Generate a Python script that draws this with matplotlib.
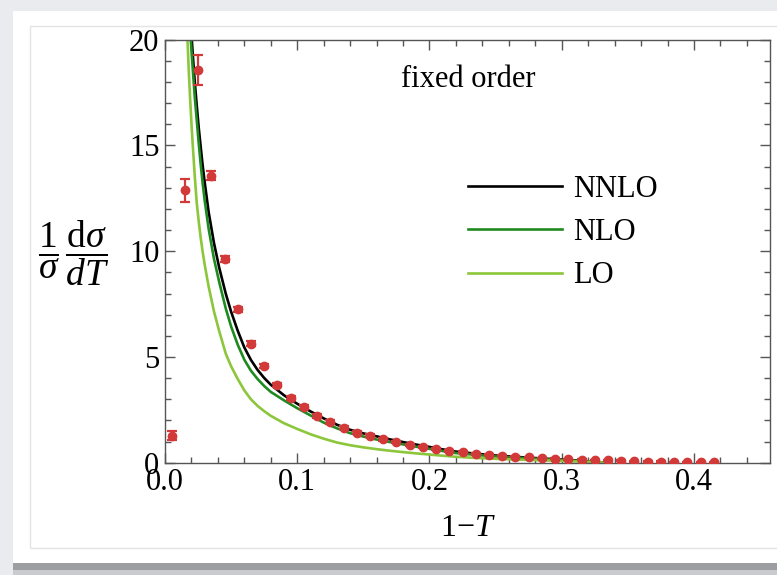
import matplotlib
matplotlib.use("Agg")
import matplotlib.pyplot as plt
from matplotlib.patches import Rectangle
from matplotlib.ticker import MultipleLocator

plt.rcParams['font.family'] = ['Liberation Serif', 'DejaVu Serif']
plt.rcParams['mathtext.fontset'] = 'custom'
plt.rcParams['mathtext.rm'] = 'Liberation Serif'
plt.rcParams['mathtext.it'] = 'Liberation Serif:italic'
plt.rcParams['mathtext.bf'] = 'Liberation Serif:bold'

# ---- data ----
data_x = [0.005, 0.015, 0.025, 0.035, 0.045, 0.055, 0.065, 0.075, 0.085, 0.095,
          0.105, 0.115, 0.125, 0.135, 0.145, 0.155, 0.165, 0.175, 0.185, 0.195,
          0.205, 0.215, 0.225, 0.235, 0.245, 0.255, 0.265, 0.275, 0.285, 0.295,
          0.305, 0.315, 0.325, 0.335, 0.345, 0.355, 0.365, 0.375, 0.385, 0.395,
          0.405, 0.415]
data_y = [1.28, 12.88, 18.55, 13.57, 9.62, 7.26, 5.63, 4.56, 3.69, 3.07,
          2.63, 2.22, 1.92, 1.65, 1.42, 1.28, 1.11, 0.97, 0.85, 0.75,
          0.64, 0.57, 0.50, 0.43, 0.38, 0.33, 0.29, 0.26, 0.22, 0.19,
          0.17, 0.15, 0.13, 0.12, 0.10, 0.08, 0.06, 0.05, 0.04, 0.03,
          0.02, 0.02]
data_err = [0.2, 0.55, 0.7, 0.2, 0.15, 0.12, 0.12, 0.1, 0.1, 0.1,
            0.08, 0.08, 0.08, 0.07, 0.07, 0.06, 0.06, 0.05, 0.05, 0.05,
            0.04, 0.04, 0.04, 0.04, 0.03, 0.03, 0.03, 0.03, 0.03, 0.03,
            0.02, 0.02, 0.02, 0.02, 0.02, 0.02, 0.02, 0.02, 0.02, 0.02,
            0.02, 0.02]

curve_x = [0.015, 0.016, 0.017, 0.018, 0.019, 0.020, 0.021, 0.0225, 0.024, 0.0255,
           0.027, 0.0285, 0.030, 0.033, 0.037, 0.041, 0.046, 0.050, 0.055, 0.060,
           0.065, 0.070, 0.075, 0.080, 0.090, 0.100, 0.110, 0.120, 0.130, 0.140,
           0.150, 0.160, 0.170, 0.180, 0.190, 0.200, 0.210, 0.220, 0.235, 0.250,
           0.265, 0.280, 0.290, 0.300, 0.310, 0.320, 0.327, 0.333]
lo_y = [23.33, 21.56, 20.0, 18.5, 17.2, 16.05, 15.0, 13.56, 12.29, 11.41,
        10.63, 9.96, 9.37, 8.33, 7.16, 6.22, 5.15, 4.56, 3.96, 3.42,
        3.00, 2.69, 2.44, 2.22, 1.87, 1.60, 1.35, 1.14, 0.96, 0.83,
        0.73, 0.645, 0.57, 0.505, 0.445, 0.39, 0.335, 0.285, 0.23, 0.19,
        0.155, 0.128, 0.108, 0.088, 0.067, 0.045, 0.025, 0.0]
nlo_y = [26.0, 24.4, 22.9, 21.7, 20.5, 19.5, 18.6, 17.3, 16.2, 15.1,
         14.1, 13.2, 12.4, 11.06, 9.65, 8.54, 7.28, 6.44, 5.58, 4.87,
         4.35, 3.96, 3.63, 3.35, 2.95, 2.58, 2.24, 1.90, 1.63, 1.40,
         1.24, 1.10, 0.98, 0.87, 0.76, 0.66, 0.555, 0.46, 0.375, 0.30,
         0.245, 0.196, 0.163, 0.13, 0.098, 0.062, 0.033, 0.0]
nnlo_y = [27.0, 25.3, 23.8, 22.5, 21.3, 20.25, 19.3, 18.0, 16.9, 15.84,
          14.93, 14.04, 13.27, 11.85, 10.4, 9.22, 7.98, 7.14, 6.24, 5.45,
          4.86, 4.39, 4.01, 3.69, 3.19, 2.79, 2.43, 2.10, 1.80, 1.56,
          1.39, 1.25, 1.11, 0.98, 0.86, 0.75, 0.635, 0.53, 0.43, 0.345,
          0.28, 0.225, 0.187, 0.15, 0.112, 0.07, 0.037, 0.0]

series_labels = ['NNLO', 'NLO', 'LO']
series_colors = ['#000000', '#1f8a1f', '#8cc63a']

W, H = 777, 575
fig = plt.figure(figsize=(W / 100, H / 100), dpi=100, facecolor='#e9ebef')

def px_rect(x0, y0, x1, y1, **kw):
    fig.patches.append(Rectangle((x0 / W, 1 - y1 / H), (x1 - x0) / W, (y1 - y0) / H,
                                 transform=fig.transFigure, **kw))

# panel shadow and white panel
px_rect(13, 563, 777, 570, facecolor='#9c9ea2', edgecolor='none', zorder=-3)
px_rect(13, 570, 777, 575, facecolor='#c9cbcf', edgecolor='none', zorder=-3)
px_rect(13, 11, 777, 563, facecolor='white', edgecolor='none', zorder=-2)
px_rect(30, 26, 790, 548, facecolor='none', edgecolor='#e4e4e4', lw=1.0, zorder=-1)

ax = fig.add_axes([165 / W, 1 - 462.8 / H, (770 - 165) / W, (462.8 - 39.6) / H])
ax.set_zorder(2)
ax.set_facecolor('white')

handles = []
for yv, lab, col in [(nnlo_y, series_labels[0], series_colors[0]),
                     (nlo_y, series_labels[1], series_colors[1]),
                     (lo_y, series_labels[2], series_colors[2])]:
    h, = ax.plot(curve_x, yv, color=col, lw=1.9, label=lab, zorder=2,
                 solid_joinstyle='round')
    handles.append(h)

ax.errorbar(data_x, data_y, yerr=data_err, fmt='o', color='#d23a3a',
            ms=6.0, elinewidth=1.6, capsize=3.5, capthick=1.6, zorder=3)

ax.set_xlim(0, 0.4575)
ax.set_ylim(0, 20)
ax.xaxis.set_minor_locator(MultipleLocator(0.02))
ax.yaxis.set_minor_locator(MultipleLocator(1))
ax.set_xticks([0.0, 0.1, 0.2, 0.3, 0.4])
ax.set_xticklabels(['0.0', '0.1', '0.2', '0.3', '0.4'])
ax.set_yticks([0, 5, 10, 15, 20])
ax.set_yticklabels(['0', '5', '10', '15', '20'])

ax.tick_params(which='both', direction='in', top=True, right=True,
               color='#555555', width=1.0, labelsize=22)
ax.tick_params(which='major', length=7.5, pad=4)
ax.tick_params(which='minor', length=4.0)
for s in ax.spines.values():
    s.set_color('#555555')
    s.set_linewidth(1.0)

ax.text(0.229, 18.1, 'fixed order', fontsize=22, ha='center', va='center')

leg = ax.legend(handles=handles, loc='upper left', bbox_to_anchor=(0.50, 0.681),
                frameon=False, fontsize=22, handlelength=3.1, handletextpad=0.35,
                labelspacing=0.47, borderaxespad=0, borderpad=0)

fig.text(74 / W, 1 - 253 / H,
         r'$\dfrac{1}{\sigma}\,\dfrac{\mathrm{d}\sigma}{dT}$',
         fontsize=27, ha='center', va='center')
fig.text(468 / W, 1 - 528 / H, r'$1{-}T$', fontsize=23, ha='center', va='center')

fig.savefig('out.png', dpi=100, facecolor=fig.get_facecolor())
